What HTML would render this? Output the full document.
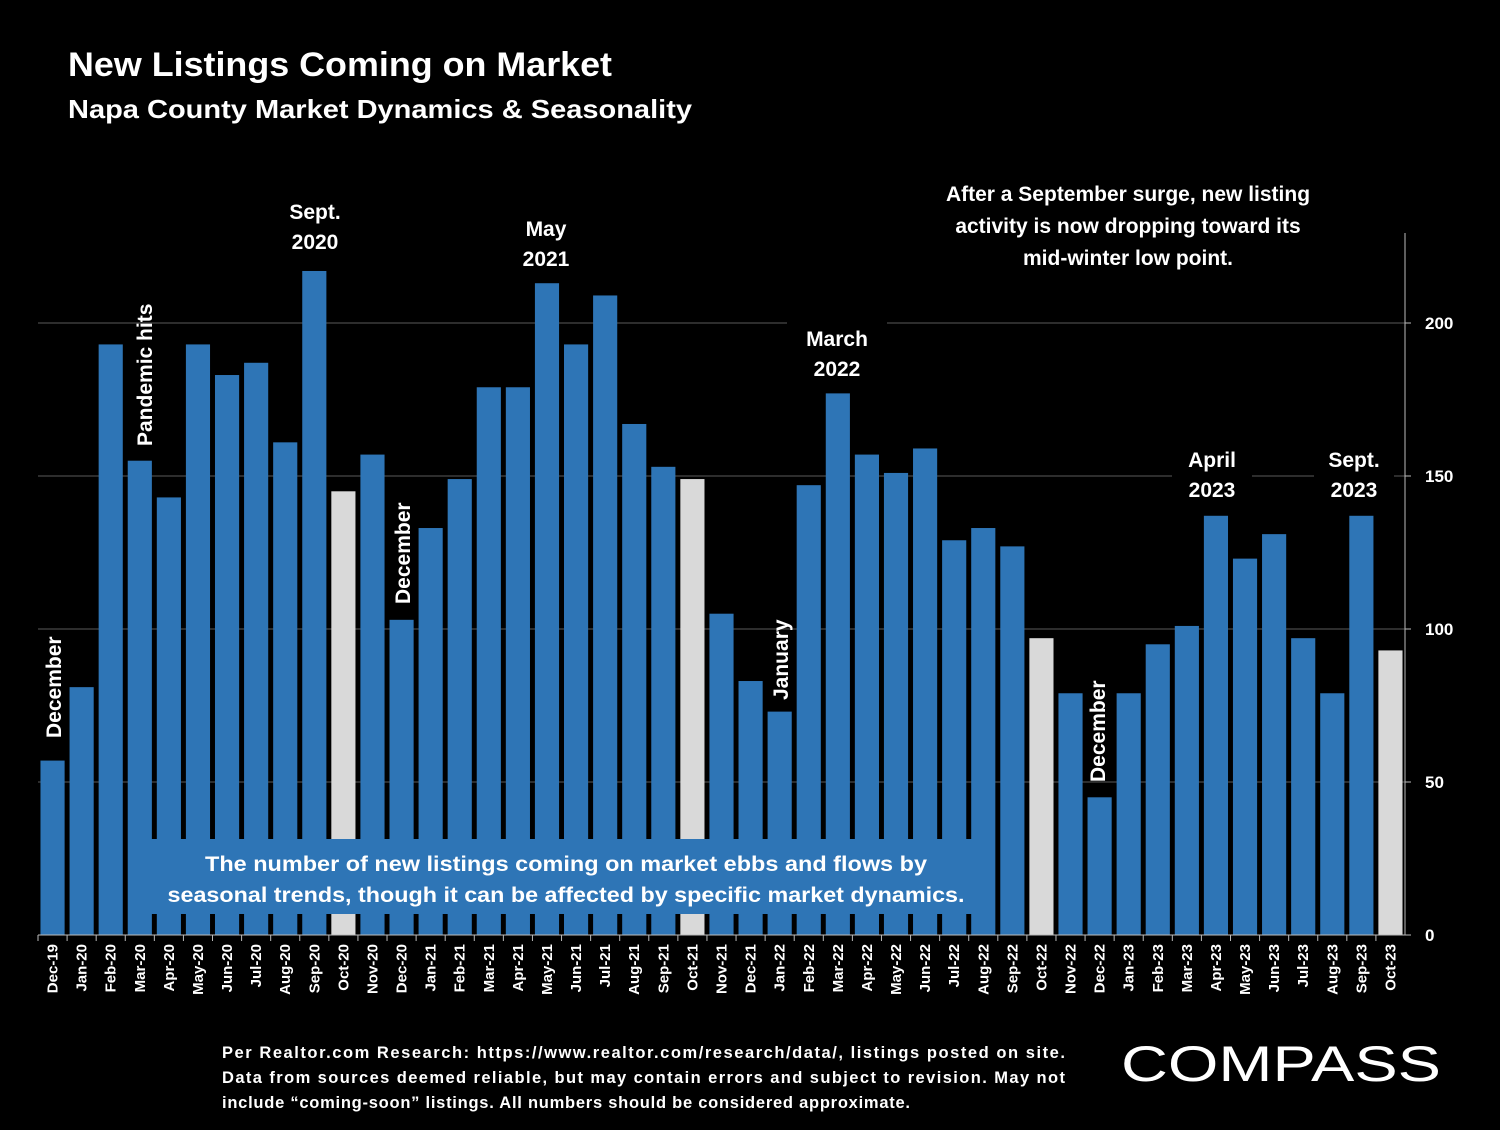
<!DOCTYPE html>
<html><head><meta charset="utf-8">
<style>
html,body{margin:0;padding:0;background:#000;}
body{width:1500px;height:1125px;overflow:hidden;font-family:"Liberation Sans",sans-serif;}
svg text{font-family:"Liberation Sans",sans-serif;font-weight:bold;}
</style></head>
<body>
<svg id="chart" width="1500" height="1125" viewBox="0 0 1500 1125">
<rect width="1500" height="1125" fill="#000"/>
<text x="68" y="76" fill="#fff" font-size="34" textLength="544" lengthAdjust="spacingAndGlyphs">New Listings Coming on Market</text>
<text x="68" y="118" fill="#fff" font-size="26" textLength="624" lengthAdjust="spacingAndGlyphs">Napa County Market Dynamics &amp; Seasonality</text>
<g id="grid"></g>
<g id="bars"></g>
<g id="axis"></g>
<g id="notes"></g>
<g fill="#fff" font-size="16.5">
<text x="222" y="1058" textLength="843" lengthAdjust="spacing">Per Realtor.com Research:  https://www.realtor.com/research/data/, listings posted on site.</text>
<text x="222" y="1083" textLength="843" lengthAdjust="spacing">Data from sources deemed reliable, but may contain errors and subject to revision. May not</text>
<text x="222" y="1108" textLength="688" lengthAdjust="spacing">include “coming-soon” listings. All numbers should be considered approximate.</text>
</g>
<text x="1121" y="1081" fill="#fff" font-size="50" style="font-weight:normal" textLength="320" lengthAdjust="spacingAndGlyphs">COMPASS</text>
</svg>
<script>
const categories=["Dec-19","Jan-20","Feb-20","Mar-20","Apr-20","May-20","Jun-20","Jul-20","Aug-20","Sep-20","Oct-20","Nov-20","Dec-20","Jan-21","Feb-21","Mar-21","Apr-21","May-21","Jun-21","Jul-21","Aug-21","Sep-21","Oct-21","Nov-21","Dec-21","Jan-22","Feb-22","Mar-22","Apr-22","May-22","Jun-22","Jul-22","Aug-22","Sep-22","Oct-22","Nov-22","Dec-22","Jan-23","Feb-23","Mar-23","Apr-23","May-23","Jun-23","Jul-23","Aug-23","Sep-23","Oct-23"];
const values=[57,81,193,155,143,193,183,187,161,217,145,157,103,133,149,179,179,213,193,209,167,153,149,105,83,73,147,177,157,151,159,129,133,127,97,79,45,79,95,101,137,123,131,97,79,137,93];
const highlighted=["Oct-20","Oct-21","Oct-22","Oct-23"];
const ticks=[0,50,100,150,200];
const NS="http://www.w3.org/2000/svg";
const x0=38,x1=1405,y0=935,ppu=3.06;
const step=(x1-x0)/categories.length;
const xS=i=>x0+i*step;
const yS=v=>y0-v*ppu;
function mk(tag,attrs,parent){const e=document.createElementNS(NS,tag);for(const k in attrs)e.setAttribute(k,attrs[k]);parent.appendChild(e);return e;}
const grid=document.getElementById('grid'),bars=document.getElementById('bars'),axis=document.getElementById('axis'),notes=document.getElementById('notes');
ticks.forEach(t=>{
 if(t>0){const l=mk('line',{x1:x0,x2:x1,y1:yS(t),y2:yS(t),stroke:'#5a5a5a','stroke-width':1},grid);
 
 }
 const tk=mk('line',{x1:x1,x2:x1+6,y1:yS(t),y2:yS(t),stroke:'#bbb'},axis);
 
 
 const lb=mk('text',{x:1425,y:yS(t)+6,fill:'#fff','font-size':17},axis);
 lb.textContent=t;
 
 
});
const ax=mk('line',{x1:x1,x2:x1,y1:233,y2:y0,stroke:'#bbb'},axis);


const xa=mk('line',{x1:x0,x2:x1,y1:y0,y2:y0,stroke:'#bbb'},axis);


categories.forEach((c,i)=>{
 const bw=step*0.83;
 const r=mk('rect',{x:xS(i)+(step-bw)/2,y:yS(values[i]),width:bw,height:values[i]*ppu,fill:highlighted.includes(c)?'#d9d9d9':'#2e75b6'},bars);
 
 
 const cx=xS(i)+step/2;
 const tk=mk('line',{x1:xS(i),x2:xS(i),y1:y0,y2:y0+6,stroke:'#bbb'},axis);
 
 
 const t=mk('text',{x:0,y:0,fill:'#fff','font-size':15,'text-anchor':'end',transform:`translate(${cx+5},944) rotate(-90)`},axis);
 t.textContent=c;
 
 
});
function note(lines,cx,ytop,name,bg,lh){
 lh=lh||30;
 const g=mk('g',{},notes);
 
 
 if(bg){mk('rect',{x:cx-bg/2,y:ytop-24,width:bg,height:lines.length*lh+6,fill:'#000'},g);}
 lines.forEach((s,k)=>{const t=mk('text',{x:cx,y:ytop+k*lh,fill:'#fff','font-size':21,'text-anchor':'middle'},g);t.textContent=s;});
}
function vnote(s,cx,ybottom,name){
 const t=mk('text',{x:0,y:0,fill:'#fff','font-size':21,transform:`translate(${cx},${ybottom}) rotate(-90)`},notes);
 t.textContent=s;
 
 
}
note(["Sept.","2020"],315,219,'annotation-sept-2020',70);
note(["May","2021"],546,236,'annotation-may-2021',70);
note(["March","2022"],837,346,'annotation-march-2022',100);
note(["April","2023"],1212,467,'annotation-april-2023',80);
note(["Sept.","2023"],1354,467,'annotation-sept-2023',80);
note(["After a September surge, new listing","activity is now dropping toward its","mid-winter low point."],1128,201,'annotation-september-surge',470,32);
vnote("December",61,738,'annotation-december-2019');
vnote("Pandemic hits",152,446,'annotation-pandemic-hits');
vnote("December",410,604,'annotation-december-2020');
vnote("January",788,700,'annotation-january-2022');
vnote("December",1105,782,'annotation-december-2022');
const box=mk('g',{},notes);


mk('rect',{x:128,y:839,width:867,height:75,fill:'#2e75b6'},box);
[["The number of new listings coming on market ebbs and flows by",871,722],["seasonal trends, though it can be affected by specific market dynamics.",902,797]].forEach(([s,y,w])=>{const t=mk('text',{x:566,y:y,fill:'#fff','font-size':21,'text-anchor':'middle',textLength:w,lengthAdjust:'spacingAndGlyphs'},box);t.textContent=s;});
</script>
</body></html>
